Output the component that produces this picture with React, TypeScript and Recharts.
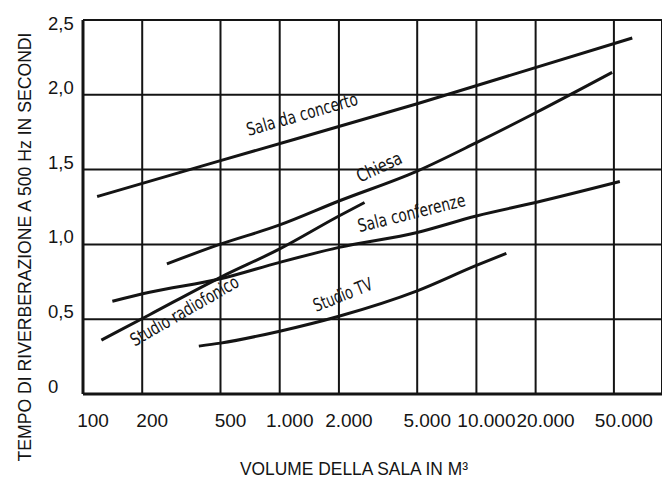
import { LineChart, Line, XAxis, YAxis, CartesianGrid, ReferenceDot } from "recharts";

// volume (m³) / tempo di riverberazione (s)
const SALA_CONCERTO: [number, number][] = [[118, 1.32], [500, 1.56], [5000, 1.94], [62000, 2.38]];
const CHIESA: [number, number][] = [[267, 0.87], [495, 1.0], [1000, 1.13], [2000, 1.29], [5000, 1.49], [10000, 1.68], [20000, 1.88], [49000, 2.15]];
const SALA_CONFERENZE: [number, number][] = [[141, 0.62], [218, 0.68], [500, 0.77], [1000, 0.88], [2000, 0.98], [5000, 1.08], [10000, 1.19], [20000, 1.28], [53600, 1.42]];
const STUDIO_RADIO: [number, number][] = [[124, 0.36], [218, 0.53], [500, 0.78], [1000, 0.97], [2000, 1.19], [2700, 1.28]];
const STUDIO_TV: [number, number][] = [[388, 0.32], [500, 0.34], [1000, 0.42], [2000, 0.52], [5000, 0.69], [10000, 0.86], [14200, 0.94]];

const VOLUMI = [100, 200, 500, 1000, 2000, 5000, 10000, 20000, 50000];
const TEMPI = [0, 0.5, 1, 1.5, 2, 2.5];

const SERIE = [
  { nome: "Sala da concerto", punti: SALA_CONCERTO },
  { nome: "Chiesa", punti: CHIESA },
  { nome: "Sala conferenze", punti: SALA_CONFERENZE },
  { nome: "Studio radiofonico", punti: STUDIO_RADIO },
  { nome: "Studio TV", punti: STUDIO_TV },
];

// etichette lungo le curve (posizione in coordinate dati)
const ETICHETTE = [
  { testo: "Sala da concerto", x: 1325, y: 1.83, angolo: -16, lung: 115 },
  { testo: "Chiesa", x: 3300, y: 1.48, angolo: -25, lung: 48 },
  { testo: "Sala conferenze", x: 4760, y: 1.17, angolo: -14, lung: 110 },
  { testo: "Studio radiofonico", x: 340, y: 0.52, angolo: -30, lung: 122 },
  { testo: "Studio TV", x: 2150, y: 0.625, angolo: -22, lung: 62 },
];

const FONT = "'Liberation Sans', Arial, sans-serif";
const FONT_NARROW = "'Liberation Sans Narrow', 'DejaVu Sans Condensed', sans-serif";
const INK = "#141414";

const fmtVol = (v: number) => String(v).replace(/\B(?=(\d{3})+(?!\d))/g, ".");
const fmtT = (v: number) => (v === 0 ? "0" : v.toFixed(1).replace(".", ","));

function XTick(props: any) {
  const { x, y, payload } = props;
  return (
    <text x={x + 10} y={y + 33} textAnchor="middle" fontSize={19} fontFamily={FONT} fill={INK}>
      {fmtVol(payload.value)}
    </text>
  );
}

function YTick(props: any) {
  const { x, y, payload } = props;
  const dy = payload.value === 2.5 ? 10 : -1;
  return (
    <text x={x - 35} y={y + dy} textAnchor="start" fontSize={18.5} fontFamily={FONT} fill={INK}>
      {fmtT(payload.value)}
    </text>
  );
}

export default function App() {
  return (
    <div style={{ position: "absolute", left: 0, top: 0, width: 662, height: 478, background: "#fff" }}>
      <LineChart width={662} height={478} margin={{ top: 20, right: 0, left: 23, bottom: 0 }}>
        <CartesianGrid stroke={INK} strokeWidth={2} />
        <XAxis
          dataKey="x"
          type="number"
          scale="log"
          domain={[100, 87800]}
          ticks={VOLUMI}
          allowDataOverflow
          height={84}
          tickSize={0}
          tickMargin={0}
          tick={<XTick />}
          axisLine={{ stroke: INK, strokeWidth: 3 }}
        />
        <YAxis
          type="number"
          domain={[0, 2.5]}
          ticks={TEMPI}
          width={60}
          tickSize={0}
          tickMargin={0}
          tick={<YTick />}
          axisLine={{ stroke: INK, strokeWidth: 3 }}
        />
        {SERIE.map((s) => (
          <Line
            key={s.nome}
            data={s.punti.map(([x, y]) => ({ x, y }))}
            dataKey="y"
            type="monotone"
            stroke={INK}
            strokeWidth={3}
            dot={false}
            isAnimationActive={false}
          />
        ))}
        {ETICHETTE.map((e) => (
          <ReferenceDot
            key={e.testo}
            x={e.x}
            y={e.y}
            r={0}
            shape={(p: any) => (
              <text
                x={p.cx}
                y={p.cy}
                textAnchor="middle"
                fontSize={18}
                fontFamily={FONT_NARROW}
                fill={INK}
                textLength={e.lung}
                lengthAdjust="spacingAndGlyphs"
                transform={`rotate(${e.angolo} ${p.cx} ${p.cy})`}
              >
                {e.testo}
              </text>
            )}
          />
        ))}
      </LineChart>
      <svg width={662} height={478} style={{ position: "absolute", left: 0, top: 0, pointerEvents: "none" }}>
        <text
          x={354}
          y={475}
          textAnchor="middle"
          fontSize={17.5}
          fontFamily={FONT}
          fill={INK}
          textLength={228}
          lengthAdjust="spacingAndGlyphs"
        >
          VOLUME DELLA SALA IN M³
        </text>
        <text
          transform="translate(31 247) rotate(-90)"
          textAnchor="middle"
          fontSize={17.5}
          fontFamily={FONT}
          fill={INK}
          textLength={429}
          lengthAdjust="spacingAndGlyphs"
        >
          TEMPO DI RIVERBERAZIONE A 500 Hz IN SECONDI
        </text>
      </svg>
    </div>
  );
}
